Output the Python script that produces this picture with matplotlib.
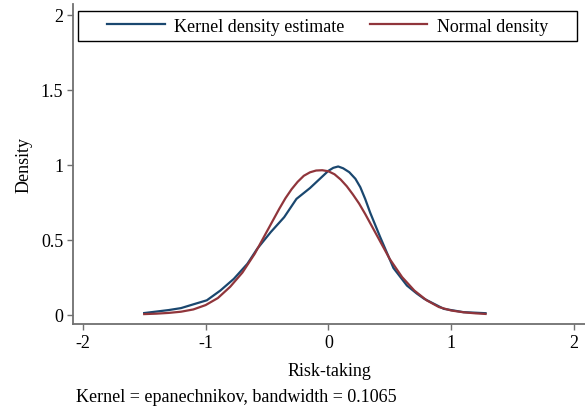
import numpy as np
import matplotlib
matplotlib.use("Agg")
import matplotlib.pyplot as plt
from matplotlib.patches import Rectangle

# kernel density estimate
kde_x = [-1.50, -1.40, -1.30, -1.20, -1.10, -0.99, -0.88, -0.77, -0.66, -0.58,
         -0.47, -0.36, -0.26, -0.15, -0.06, 0.00, 0.04, 0.08, 0.12, 0.17,
         0.22, 0.26, 0.30, 0.34, 0.42, 0.53, 0.64, 0.72, 0.78, 0.94, 1.10, 1.28]
kde_y = [0.010, 0.020, 0.030, 0.043, 0.068, 0.095, 0.160, 0.238, 0.338, 0.438,
         0.549, 0.649, 0.771, 0.843, 0.912, 0.958, 0.978, 0.987, 0.975, 0.949,
         0.905, 0.849, 0.770, 0.680, 0.520, 0.310, 0.193, 0.140, 0.105, 0.038, 0.016, 0.009]

# normal density
norm_x = [-1.50, -1.40, -1.30, -1.20, -1.10, -1.00, -0.90, -0.80, -0.70, -0.60,
          -0.55, -0.50, -0.45, -0.40, -0.35, -0.30, -0.25, -0.20, -0.15, -0.10,
          -0.05, 0.00, 0.05, 0.10, 0.15, 0.20, 0.25, 0.30, 0.35, 0.40,
          0.45, 0.50, 0.60, 0.70, 0.80, 0.90, 1.00, 1.10, 1.20, 1.28]
norm_y = [0.003, 0.006, 0.011, 0.019, 0.034, 0.063, 0.110, 0.185, 0.280, 0.405,
          0.480, 0.555, 0.630, 0.705, 0.775, 0.835, 0.885, 0.925, 0.948, 0.960,
          0.962, 0.955, 0.935, 0.900, 0.855, 0.800, 0.740, 0.670, 0.595, 0.520,
          0.445, 0.370, 0.250, 0.160, 0.095, 0.050, 0.027, 0.015, 0.008, 0.004]

xticks = [-2, -1, 0, 1, 2]
yticks = [0, 0.5, 1, 1.5, 2]
yticklabels = ["0", "0.5", "1", "1.5", "2"]

plt.rcParams['font.family'] = ['Liberation Serif', 'DejaVu Serif']
plt.rcParams['font.size'] = 13

W, H = 585, 414
fig = plt.figure(figsize=(5.85, 4.14), dpi=100)
ax = fig.add_axes([73/W, 1-325/H, 1-73/W, 320/H])

blue = '#1a476f'
red = '#90353b'
ax.plot(kde_x, kde_y, color=blue, lw=1.6, label='Kernel density estimate')
ax.plot(norm_x, norm_y, color=red, lw=1.6, label='Normal density')

ax.set_xlim(-2.08, 2.09)
ax.set_ylim(-0.063, 2.07)
ax.set_xticks(xticks)
ax.set_xticklabels([str(t) for t in xticks])
ax.set_yticks(yticks)
ax.set_yticklabels(yticklabels)

for s in ['top', 'right']:
    ax.spines[s].set_visible(False)
for s in ['left', 'bottom']:
    ax.spines[s].set_color('#707070')
    ax.spines[s].set_linewidth(1.3)
ax.tick_params(axis='both', direction='out', length=4, width=1, color='#707070', pad=3)

ax.set_xlabel('Risk-taking', labelpad=8)
ax.set_ylabel('Density', labelpad=6)

# legend box like Stata
box = Rectangle((78/W, 1-42/H), (577-78)/W, 30/H, transform=fig.transFigure,
                fill=False, edgecolor='black', lw=1.0)
fig.patches.append(box)
handles, labels = ax.get_legend_handles_labels()
fig.legend(handles, labels, ncol=2, frameon=False, loc='center',
           bbox_to_anchor=((78+577)/2/W, 1-27/H),
           handlelength=3.2, handletextpad=0.5, columnspacing=1.4, borderpad=0)

fig.text(76/W, 1-398/H, 'Kernel = epanechnikov, bandwidth = 0.1065',
         ha='left', va='center')

fig.savefig('out.png', dpi=100)
